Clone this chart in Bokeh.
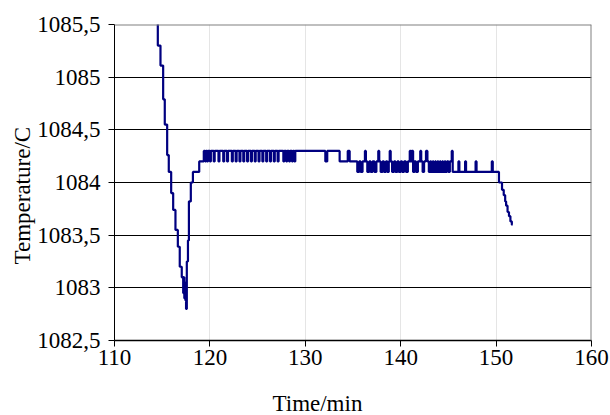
from bokeh.plotting import figure
from bokeh.models import FixedTicker, Span, Title, LinearAxis, Grid
from bokeh.embed import file_html
from bokeh.resources import INLINE

# Step series: time (min) at which each reading starts, temperature (C)
time_min = [
    114.50, 114.54, 114.82, 115.10, 115.27, 115.52, 115.69, 115.94, 116.15, 116.39,
    116.64, 116.84, 117.05, 117.20, 117.26, 117.32, 117.38, 117.44, 117.50, 117.58,
    117.70, 117.80, 118.00, 118.22, 118.88,
    119.36, 119.50, 119.60, 119.72, 119.80, 120.00, 120.10, 120.40, 120.50, 120.90,
    121.00, 121.40, 121.50, 121.80, 121.90, 122.30, 122.40, 122.70, 122.80, 123.10,
    123.20, 123.50, 123.60, 123.90, 124.00, 124.30, 124.40, 124.70, 124.80, 125.10,
    125.20, 125.50, 125.60, 125.90, 126.00, 126.30, 126.40, 126.70, 126.80, 127.10,
    127.20, 127.70, 127.80, 128.00, 128.10, 128.30, 128.40, 128.60, 128.70, 128.85,
    128.95, 132.10, 132.30, 133.60, 134.45, 134.65,
    135.45, 135.65, 135.80, 136.00, 136.25, 136.35, 136.50, 136.70, 136.85, 137.05,
    137.25, 137.45, 137.65, 137.75, 137.90, 138.10, 138.25, 138.45, 138.60, 138.75,
    138.85, 138.95, 139.10, 139.30, 139.45, 139.65, 139.80, 140.00, 140.15, 140.35,
    140.55, 140.75, 140.95, 141.05, 141.15, 141.30, 141.45, 141.60, 141.80, 142.05,
    142.15, 142.30, 142.45, 142.65, 142.80, 142.95, 143.10, 143.20, 143.35, 143.45,
    143.60, 143.70, 143.85, 143.95, 144.10, 144.20, 144.35, 144.45, 144.60, 144.70,
    144.85, 145.00, 145.15, 145.35,
    145.45, 146.05, 146.15, 146.75, 146.85, 147.85, 147.95, 149.55, 149.65,
    150.30, 150.62, 150.80, 150.95, 151.05, 151.20, 151.35, 151.50, 151.65, 151.72,
]
temp_c = [
    1085.62, 1085.30, 1085.11, 1084.79, 1084.55, 1084.26, 1084.10, 1083.90, 1083.74, 1083.55,
    1083.39, 1083.20, 1083.10, 1082.95, 1083.10, 1082.90, 1083.05, 1082.88, 1082.80, 1083.25,
    1083.45, 1083.82, 1084.00, 1084.10, 1084.20,
    1084.3, 1084.2, 1084.3, 1084.2, 1084.3, 1084.2, 1084.3, 1084.2, 1084.3, 1084.2,
    1084.3, 1084.2, 1084.3, 1084.2, 1084.3, 1084.2, 1084.3, 1084.2, 1084.3, 1084.2,
    1084.3, 1084.2, 1084.3, 1084.2, 1084.3, 1084.2, 1084.3, 1084.2, 1084.3, 1084.2,
    1084.3, 1084.2, 1084.3, 1084.2, 1084.3, 1084.2, 1084.3, 1084.2, 1084.3, 1084.2,
    1084.3, 1084.2, 1084.3, 1084.2, 1084.3, 1084.2, 1084.3, 1084.2, 1084.3, 1084.2,
    1084.3, 1084.2, 1084.3, 1084.2, 1084.3, 1084.2,
    1084.1, 1084.2, 1084.1, 1084.2, 1084.3, 1084.2, 1084.1, 1084.2, 1084.1, 1084.2,
    1084.1, 1084.2, 1084.3, 1084.2, 1084.1, 1084.2, 1084.1, 1084.2, 1084.1, 1084.2,
    1084.3, 1084.2, 1084.1, 1084.2, 1084.1, 1084.2, 1084.1, 1084.2, 1084.1, 1084.2,
    1084.1, 1084.2, 1084.3, 1084.2, 1084.3, 1084.1, 1084.2, 1084.1, 1084.2, 1084.3,
    1084.2, 1084.1, 1084.2, 1084.3, 1084.2, 1084.1, 1084.2, 1084.1, 1084.2, 1084.1,
    1084.2, 1084.1, 1084.2, 1084.1, 1084.2, 1084.1, 1084.2, 1084.1, 1084.2, 1084.1,
    1084.2, 1084.1, 1084.2, 1084.3,
    1084.1, 1084.2, 1084.1, 1084.2, 1084.1, 1084.2, 1084.1, 1084.2, 1084.1,
    1084.00, 1083.93, 1083.88, 1083.82, 1083.78, 1083.72, 1083.68, 1083.63, 1083.60, 1083.60,
]

x_ticks = [110, 120, 130, 140, 150, 160]
y_ticks = [1082.5, 1083, 1083.5, 1084, 1084.5, 1085, 1085.5]
y_tick_labels = ["1082,5", "1083", "1083,5", "1084", "1084,5", "1085", "1085,5"]
x_title = "Time/min"
y_title = "Temperature/C"

FONT = "'Liberation Serif', 'Times New Roman', serif"
FS = "23px"

axis_style = dict(
    axis_line_color="black",
    major_tick_line_color="black",
    major_tick_in=0,
    major_tick_out=6,
    minor_tick_line_color=None,
    major_label_text_font=FONT,
    major_label_text_font_size=FS,
    major_label_text_font_style="normal",
    major_label_text_color="black",
)

p = figure(width=610, height=415, x_range=(110, 160), y_range=(1082.5, 1085.5),
           output_backend="svg", toolbar_location=None,
           x_axis_location=None, y_axis_location=None,
           min_border_left=114, min_border_right=19, min_border_top=24, min_border_bottom=75)
p.background_fill_color = "white"
p.border_fill_color = "white"
p.outline_line_color = None

xax = LinearAxis(ticker=FixedTicker(ticks=x_ticks), axis_line_width=1.5,
                 major_label_standoff=3, **axis_style)
yax = LinearAxis(ticker=FixedTicker(ticks=y_ticks), axis_line_width=1,
                 major_label_standoff=8,
                 major_label_overrides=dict(zip(y_ticks, y_tick_labels)), **axis_style)
p.add_layout(xax, "below")
p.add_layout(yax, "left")

p.add_layout(Grid(dimension=1, ticker=FixedTicker(ticks=y_ticks),
                  grid_line_color="black", grid_line_width=1))

p.step(time_min, temp_c, mode="after", line_color="#000080", line_width=2.2)

p.add_layout(Span(location=1085.5, dimension="width", line_color="#808080", line_width=2))
p.add_layout(Span(location=160, dimension="height", line_color="#808080", line_width=2))

# spacer so that the x title sits lower, as in the reference
p.add_layout(Title(text=" ", text_font_size="8px", standoff=10,
                   text_color="white"), "below")
p.add_layout(Title(text=x_title, align="left", offset=158, standoff=0,
                   text_font=FONT, text_font_size=FS, text_font_style="normal",
                   text_color="black"), "below")
p.add_layout(Title(text=y_title, align="left", offset=76, standoff=0,
                   text_font=FONT, text_font_size=FS, text_font_style="normal",
                   text_color="black"), "left")

open("out.html", "w").write(file_html(p, INLINE))
